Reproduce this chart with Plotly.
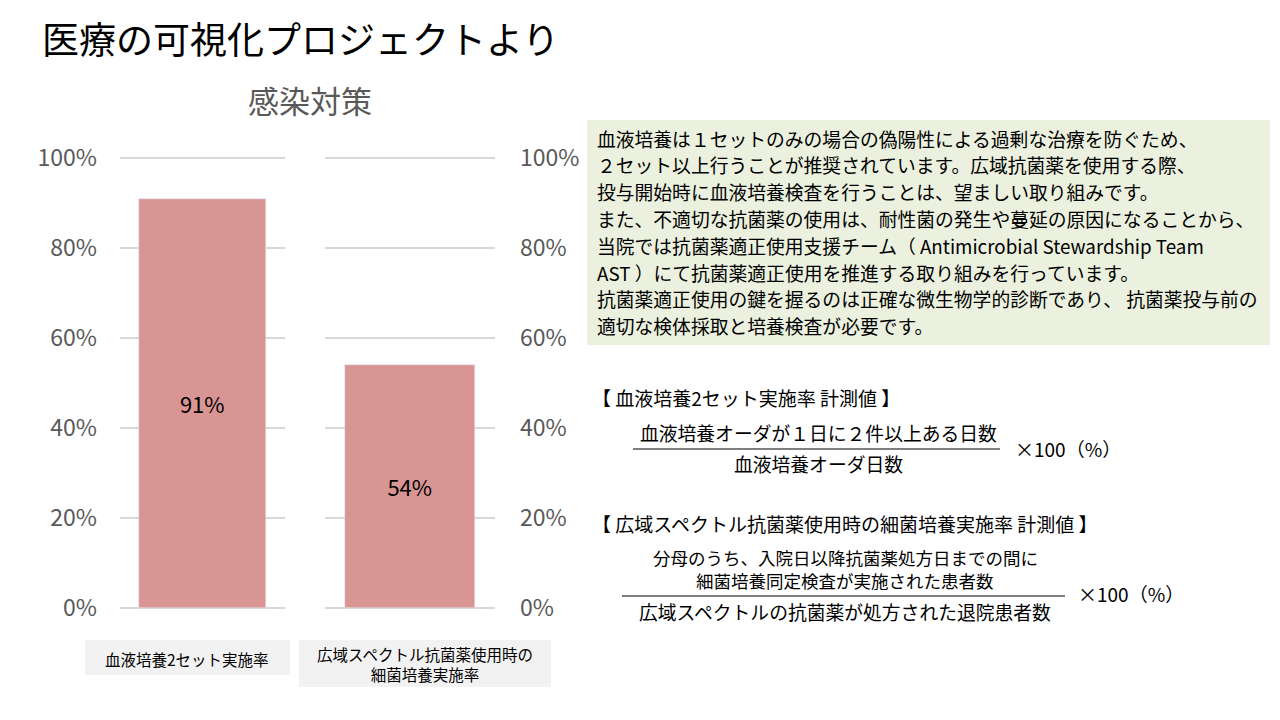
import plotly.graph_objects as go

# the page body keeps its 8px margin, so the figure is a bit smaller than the window
W, H = 1264, 704
OFF = 8
FONT = "Noto Sans CJK JP"

# data
categories = ["血液培養2セット実施率", "広域スペクトル抗菌薬使用時の<br>細菌培養実施率"]
rates = [0.91, 0.54]
y_ticks = [0, 0.2, 0.4, 0.6, 0.8, 1.0]

title_text = "医療の可視化プロジェクトより"
chart_title = "感染対策"
note_lines = [
    "血液培養は１セットのみの場合の偽陽性による過剰な治療を防ぐため、",
    "２セット以上行うことが推奨されています。広域抗菌薬を使用する際、",
    "投与開始時に血液培養検査を行うことは、望ましい取り組みです。",
    "また、不適切な抗菌薬の使用は、耐性菌の発生や蔓延の原因になることから、",
    "当院では抗菌薬適正使用支援チーム（ Antimicrobial Stewardship Team",
    "AST ）にて抗菌薬適正使用を推進する取り組みを行っています。",
    "抗菌薬適正使用の鍵を握るのは正確な微生物学的診断であり、 抗菌薬投与前の",
    "適切な検体採取と培養検査が必要です。",
]
formula1_head = "【 血液培養2セット実施率 計測値 】"
formula1_num = "血液培養オーダが１日に２件以上ある日数"
formula1_den = "血液培養オーダ日数"
formula2_head = "【 広域スペクトル抗菌薬使用時の細菌培養実施率 計測値 】"
formula2_num = ["分母のうち、入院日以降抗菌薬処方日までの間に", "細菌培養同定検査が実施された患者数"]
formula2_den = "広域スペクトルの抗菌薬が処方された退院患者数"
times100 = "×100（%）"


def px(x):
    return (x - OFF) / W


def py(y):
    return 1 - (y - OFF) / H


bar_color = "#d99594"
grid_color = "#d9d9d9"
tick_color = "#595959"

fig = go.Figure()
for i, (cat, val) in enumerate(zip(categories, rates)):
    n = "" if i == 0 else str(i + 1)
    fig.add_trace(go.Bar(
        x=[cat], y=[val], xaxis="x" + n, yaxis="y" + n,
        marker_color=bar_color, width=0.77,
        text=[val], texttemplate="%{y:.0%}", textposition="inside",
        insidetextanchor="middle",
        textfont=dict(family=FONT, size=22, color="#000000"),
        hoverinfo="skip", showlegend=False,
    ))

yax = dict(
    range=[-0.003, 1.003], tickvals=y_ticks, tickformat=".0%",
    showgrid=True, gridcolor=grid_color, gridwidth=1.5,
    zeroline=False, showline=False, ticks="", automargin=False,
    tickfont=dict(family=FONT, size=23, color=tick_color),
    domain=[py(609), py(157)], fixedrange=True,
)
xax = dict(showticklabels=False, showgrid=False, zeroline=False,
           showline=False, ticks="", fixedrange=True, automargin=False)

fig.update_layout(
    width=W, height=H,
    margin=dict(l=0, r=0, t=0, b=0, autoexpand=False),
    paper_bgcolor="white", plot_bgcolor="white",
    bargap=0,
    xaxis=dict(xax, domain=[px(120), px(285)]),
    xaxis2=dict(xax, domain=[px(325), px(495)]),
    yaxis=dict(yax, anchor="x", side="left", ticklabelstandoff=22),
    yaxis2=dict(yax, anchor="x2", side="right", ticklabelstandoff=24),
)

shapes = []
annotations = []


def label(text, x, y, size, color="#000000", xanchor="left", align="left"):
    annotations.append(dict(
        text=text, x=px(x), y=py(y), xref="paper", yref="paper",
        xanchor=xanchor, yanchor="middle", align=align, showarrow=False,
        font=dict(family=FONT, size=size, color=color),
    ))


def box(x0, y0, x1, y1, color):
    shapes.append(dict(type="rect", xref="paper", yref="paper",
                       x0=px(x0), x1=px(x1), y0=py(y1), y1=py(y0),
                       fillcolor=color, line=dict(width=0), layer="below"))


def hline(x0, x1, y):
    shapes.append(dict(type="line", xref="paper", yref="paper",
                       x0=px(x0), x1=px(x1), y0=py(y), y1=py(y),
                       line=dict(color="#000000", width=1.2)))


# titles
label(title_text, 40, 38, 37)
label(chart_title, 310, 100, 31, color=tick_color, xanchor="center")

# category boxes under the bars
box(85, 640, 290, 675, "#f2f2f2")
box(299, 640, 551, 687, "#f2f2f2")
label(categories[0], 187, 659, 15.5, xanchor="center", align="center")
label(categories[1], 425, 664, 15.5, xanchor="center", align="center")

# explanation box
box(587, 120, 1270, 345, "#ebf1de")
for k, line in enumerate(note_lines):
    label(line, 595, 138 + k * 26.8, 18.8)

# formula 1
label(formula1_head, 590, 397, 19)
label(formula1_num, 818, 433, 18.8, xanchor="center", align="center")
hline(633, 1000, 449)
label(formula1_den, 818, 463, 18.8, xanchor="center", align="center")
label(times100, 1013, 448, 19)

# formula 2
label(formula2_head, 590, 523, 19)
label(formula2_num[0], 845, 557, 17.5, xanchor="center", align="center")
label(formula2_num[1], 845, 580, 17.5, xanchor="center", align="center")
hline(622, 1065, 596)
label(formula2_den, 845, 611, 18.8, xanchor="center", align="center")
label(times100, 1076, 593, 19)

fig.update_layout(shapes=shapes, annotations=annotations)

fig.write_html("out.html", config={"displayModeBar": False})
